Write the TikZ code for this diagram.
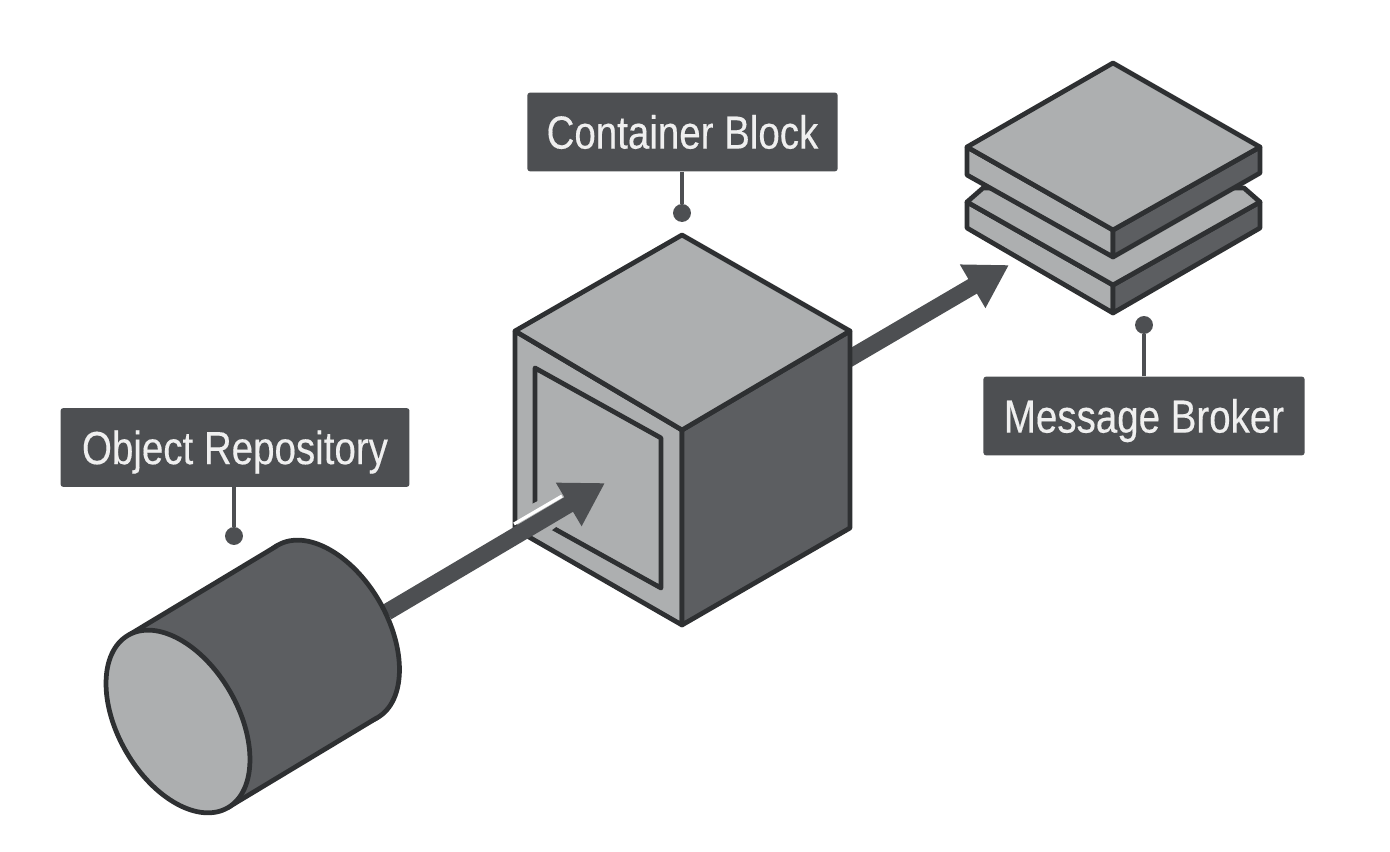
\documentclass[tikz,border=0pt]{standalone}
\usepackage{fontspec}
\setmainfont[FakeStretch=0.83, FakeBold=0.3]{Liberation Sans}
\usetikzlibrary{arrows.meta}

\definecolor{facelight}{HTML}{ADAFB0}
\definecolor{facedark}{HTML}{5C5E61}
\definecolor{boxdark}{HTML}{4D4F52}
\definecolor{edgedark}{HTML}{2E3032}
\definecolor{labeltext}{HTML}{EFEFEF}

\tikzset{
	lightface/.style={fill=facelight, draw=edgedark, line width=2.7pt, line join=round},
	darkface/.style={fill=facedark, draw=edgedark, line width=2.7pt, line join=round},
	labelbox/.style={fill=boxdark, rounded corners=1.5pt, text=labeltext, minimum height=44.8pt, inner sep=0pt, text height=18.9pt, text depth=0pt, font=\fontsize{26.4}{28}\selectfont},
	pindot/.style={circle, fill=boxdark, minimum size=10.2pt, inner sep=0pt},
	pinline/.style={draw=boxdark, line width=2.1pt},
	flow/.style={draw=boxdark, line width=9.6pt, -{Stealth[length=24pt, width=27pt, inset=0pt]}},
}

\begin{document}
\begin{tikzpicture}[x=0.02cm, y=0.02cm]
\useasboundingbox (0,0) rectangle (1390,852);

% arrow out of the cube
\coordinate (cubeout) at (840,488);
\coordinate (brokerin) at (1009,587);
\draw[flow] (cubeout) -- (brokerin);

% cube
\draw[lightface] (515,521) -- (682,422) -- (682,227) -- (515,323) -- cycle;
\draw[lightface] (535,484) -- (661,414) -- (661,264) -- (535,334) -- cycle;
\draw[darkface] (850,521) -- (682,422) -- (682,227) -- (850,324) -- cycle;
\draw[lightface] (682,617) -- (850,521) -- (682,422) -- (515,521) -- cycle;

% arrow into the cube
\coordinate (drumout) at (387,240);
\coordinate (cubein) at (605,369);
\fill[facelight] (528,346) -- (526,327) -- (552,322) -- (590,350) -- (560,362) -- cycle;
\draw[white, line width=1.8pt] (514,328) -- (562,356);
\draw[flow] (drumout) -- (cubein);

% drum
\draw[darkface] (327.5,220.5) ellipse [x radius=99.6, y radius=60, rotate=-60];
\fill[facedark] (127.5,216.5) -- (277.5,306.5) -- (327.5,220.5) -- (377.5,134.5) -- (227.5,44.5) -- cycle;
\draw[edgedark, line width=2.7pt] (128,216.5) -- (277.5,306.5);
\draw[edgedark, line width=2.7pt] (228,44.5) -- (377.5,134.5);
\draw[lightface] (178,130.5) ellipse [x radius=99.6, y radius=60, rotate=-60];

% lower plate
\draw[lightface] (967,650) -- (1113,567) -- (1113,539) -- (967,624) -- cycle;
\draw[darkface] (1260,650) -- (1113,567) -- (1113,539) -- (1260,624) -- cycle;
\draw[lightface] (967,650) -- (983,664) -- (1244,664) -- (1260,650) -- (1113,567) -- cycle;

% upper plate
\draw[lightface] (967,705) -- (1113,622) -- (1113,595) -- (967,677) -- cycle;
\draw[darkface] (1260,705) -- (1113,622) -- (1113,595) -- (1260,679) -- cycle;
\draw[lightface] (1113,789) -- (1260,705) -- (1113,622) -- (967,705) -- cycle;

% labels
\node[labelbox, minimum width=176.6pt] (container) at (682.5,720) {Container Block};
\node[labelbox, minimum width=198.6pt] (repository) at (235,404.5) {Object Repository};
\node[labelbox, minimum width=182.8pt] (broker) at (1144,436) {Message Broker};
\node[pindot] (containerpin) at (682,639) {};
\node[pindot] (repositorypin) at (234,316) {};
\node[pindot] (brokerpin) at (1144,527) {};
\draw[pinline] (container.south -| containerpin) -- (containerpin);
\draw[pinline] (repository.south -| repositorypin) -- (repositorypin);
\draw[pinline] (broker.north -| brokerpin) -- (brokerpin);
\end{tikzpicture}
\end{document}
